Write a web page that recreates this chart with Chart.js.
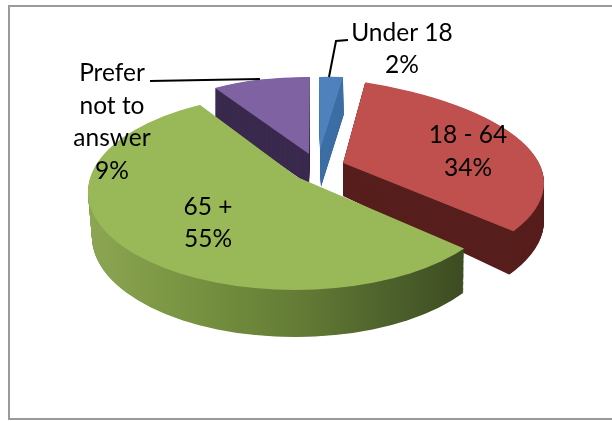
<!DOCTYPE html>
<html><head><meta charset="utf-8">
<style>html,body{margin:0;padding:0;background:#fff}canvas{display:block}#w{position:relative;width:612px;height:421px}</style>
<script src="https://cdn.jsdelivr.net/npm/chart.js@4"></script>
</head><body><div id="w"><canvas id="c" width="612" height="421"></canvas></div>
<script>
const categories = ['Under 18','18 - 64','65 +','Prefer not to answer'];
const shares = [2,34,55,9];
const topColors = ['#4f81bd','#bf504d','#99b958','#7f62a1'];
const sideColors = ['#3d6fa5','#571f1d','green','#3a2a4e'];
const greenSideStops = [[88,'#8ca653'],[200,'#76913f'],[300,'#637b36'],[400,'#4a5e2a'],[463,'#3e4c21']];
const labelLines = [['Under 18','2%'],['18 - 64','34%'],['65 +','55%'],['Prefer','not to','answer','9%']];
const labelAnchors = [[402,41,32],[468,143,33],[208,215,32],[112,81,32.7]];
const leaderPaths = [[[329,77],[336,41],[348,40]],null,null,[[150,81],[260,79]]];
const drawOrder = [3,0,1,2];
// oblique projection of each exploded slice: apex, matrix (px per unit radius), outline ellipse, depth
const views = [
 {apex:[320,150],m:[191.5,-4.5,1,73],drop:[1,37],clipTop:null,clipBot:null},
 {apex:[343,163],m:[216.4,19.5,5.15,83.1],mBot:[210.5,29,4.4,87.3],drop:[0,33],clipTop:[244,183,300,110],clipBot:[244,221,300,115],k:3},
 {apex:[297,177],m:[253.4,45.5,-46,56.4],drop:[-2,44],clipTop:[295,192,207,98],clipBot:[295,237,203,100],k:6},
 {apex:[309,154],m:[177,1.8,-1,77],drop:[0,31],clipTop:null,clipBot:null}
];
const lerp=(a,b,t)=>a+(b-a)*t;
function drawSlice(ctx,arc,view,t,fill){
  const R=arc.outerRadius, k=view.k||1;
  const mB=view.mBot||view.m;
  const m=view.m.map((v,i)=>lerp(v,mB[i],t)*k/R);
  const px=view.apex[0]+view.drop[0]*t, py=view.apex[1]+view.drop[1]*t;
  ctx.save();
  if(view.clipTop){
    const e=view.clipTop.map((v,i)=>lerp(v,view.clipBot[i],t));
    ctx.beginPath();ctx.ellipse(e[0],e[1],e[2],e[3],0,0,Math.PI*2);ctx.clip();
  }
  ctx.transform(m[0],m[1],m[2],m[3],px,py);
  ctx.translate(-arc.x,-arc.y);
  let bg=fill;
  if(fill==='green'){
    const n=m[0]*m[0]+m[2]*m[2];
    const at=x=>[arc.x+m[0]*(x-px)/n,arc.y+m[2]*(x-px)/n];
    const a=at(greenSideStops[0][0]),b=at(greenSideStops[greenSideStops.length-1][0]);
    bg=ctx.createLinearGradient(a[0],a[1],b[0],b[1]);
    const x0=greenSideStops[0][0],x1=greenSideStops[greenSideStops.length-1][0];
    greenSideStops.forEach(s=>bg.addColorStop((s[0]-x0)/(x1-x0),s[1]));
  }
  const saved=arc.options;
  arc.options=Object.assign({},saved,{backgroundColor:bg,borderWidth:0});
  arc.draw(ctx);
  arc.options=saved;
  ctx.restore();
}
const pie3d={id:'pie3d',
  beforeDatasetsDraw(chart){
    const ctx=chart.ctx, arcs=chart.getDatasetMeta(0).data;
    drawOrder.forEach(i=>{
      const v=views[i];
      const steps=Math.ceil(Math.hypot(v.drop[0],v.drop[1])*2);
      for(let s=steps;s>=1;s--) drawSlice(ctx,arcs[i],v,s/steps,sideColors[i]);
      drawSlice(ctx,arcs[i],v,0,topColors[i]);
    });
    return false;
  },
  afterDraw(chart){
    const ctx=chart.ctx;
    ctx.save();
    ctx.strokeStyle='#000';ctx.lineWidth=2;
    leaderPaths.forEach(p=>{ if(!p)return; ctx.beginPath();p.forEach((q,i)=>i?ctx.lineTo(q[0],q[1]):ctx.moveTo(q[0],q[1]));ctx.stroke();});
    ctx.fillStyle='#000';ctx.font='24.5px Lato';ctx.textAlign='center';ctx.textBaseline='alphabetic';
    labelLines.forEach((lines,i)=>lines.forEach((l,j)=>ctx.fillText(l,labelAnchors[i][0],labelAnchors[i][1]+j*labelAnchors[i][2])));
    ctx.restore();
  }
};
const frame={id:'frame',beforeDraw(chart){
  const c=chart.ctx;c.save();c.strokeStyle='#9a9a9a';c.lineWidth=2;c.strokeRect(9,6,640,413);c.restore();
}};
new Chart(document.getElementById('c'),{
  type:'pie',
  data:{labels:categories,datasets:[{data:shares,backgroundColor:topColors,borderWidth:0,radius:100}]},
  plugins:[frame,pie3d],
  options:{responsive:false,animation:false,events:[],layout:{padding:0},
    plugins:{legend:{display:false},tooltip:{enabled:false}}}
});
</script></body></html>
